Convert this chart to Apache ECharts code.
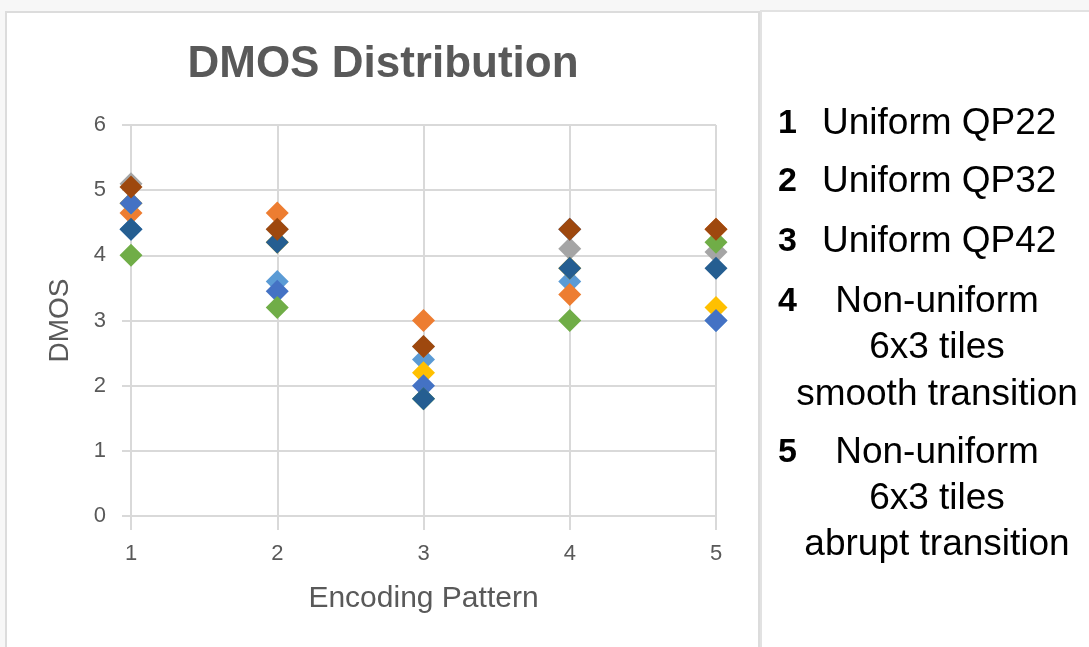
<!DOCTYPE html>
<html>
<head>
<meta charset="utf-8">
<script src="https://cdn.jsdelivr.net/npm/echarts@6/dist/echarts.min.js"></script>
<style>
html,body{margin:0;padding:0;background:#f7f7f7;}
#chart{width:1089px;height:647px;}
</style>
</head>
<body>
<div id="chart"></div>
<script>
// Encoding patterns (x) and tick labels
const patterns = [1, 2, 3, 4, 5];
const yTicks = [0, 1, 2, 3, 4, 5, 6];

// DMOS values per series (one value per encoding pattern)
const lightBlueVals = [4.4, 3.6, 2.4, 3.6, 3.0];
const grayVals      = [5.1, 4.4, 2.6, 4.1, 4.05];
const orangeVals    = [4.65, 4.65, 3.0, 3.4, 4.4];
const yellowVals    = [4.8, 4.2, 2.2, 3.8, 3.2];
const blueVals      = [4.8, 3.45, 2.0, 4.4, 3.0];
const greenVals     = [4.0, 3.2, 1.8, 3.0, 4.2];
const darkBlueVals  = [4.4, 4.2, 1.8, 3.8, 3.8];
const brownVals     = [5.05, 4.4, 2.6, 4.4, 4.4];

// Legend text on right
const legendItems = [
  {num: '1', lines: ['Uniform QP22']},
  {num: '2', lines: ['Uniform QP32']},
  {num: '3', lines: ['Uniform QP42']},
  {num: '4', lines: ['Non-uniform', '6x3 tiles', 'smooth transition']},
  {num: '5', lines: ['Non-uniform', '6x3 tiles', 'abrupt transition']}
];

const seriesDefs = [
  {name: 'S5', color: '#5B9BD5', vals: lightBlueVals},
  {name: 'S3', color: '#A5A5A5', vals: grayVals},
  {name: 'S2', color: '#ED7D31', vals: orangeVals},
  {name: 'S4', color: '#FFC000', vals: yellowVals},
  {name: 'S1', color: '#4472C4', vals: blueVals},
  {name: 'S6', color: '#70AD47', vals: greenVals},
  {name: 'S7', color: '#255E91', vals: darkBlueVals},
  {name: 'S8', color: '#9E480E', vals: brownVals}
];

const FONT = "'Liberation Sans', Arial, Helvetica, sans-serif";
const chart = echarts.init(document.getElementById('chart'), null, {renderer: 'canvas'});

const graphics = [
  {type: 'rect', z: -10, shape: {x: 6, y: 12, width: 753, height: 645},
   style: {fill: '#ffffff', stroke: '#dcdcdc', lineWidth: 2}},
  {type: 'rect', z: -10, shape: {x: 761, y: 11, width: 340, height: 645},
   style: {fill: '#ffffff', stroke: '#e2e2e2', lineWidth: 2}},
  {type: 'text', z: 10, x: 383, y: 65,
   style: {text: 'DMOS Distribution', font: "bold 44px " + FONT, fill: '#595959',
           textAlign: 'center', textVerticalAlign: 'middle'}}
];

const lineYs = [[124], [182], [242], [302, 348, 395], [453, 499, 545]];
legendItems.forEach((it, i) => {
  graphics.push({type: 'text', z: 10, x: 778, y: lineYs[i][0],
    style: {text: it.num, font: "bold 34px " + FONT, fill: '#000', textAlign: 'left', textVerticalAlign: 'middle'}});
  it.lines.forEach((ln, j) => {
    const single = it.lines.length === 1;
    graphics.push({type: 'text', z: 10, x: single ? 822 : 937, y: lineYs[i][j],
      style: {text: ln, font: "37px " + FONT, fill: '#000', textAlign: single ? 'left' : 'center', textVerticalAlign: 'middle'}});
  });
});

const option = {
  animation: false,
  backgroundColor: '#f7f7f7',
  textStyle: {fontFamily: FONT},
  graphic: graphics,
  grid: {left: 131, right: 373, top: 125, bottom: 131, containLabel: false},
  xAxis: {
    type: 'value', min: 1, max: 5, interval: 1,
    name: 'Encoding Pattern', nameLocation: 'middle', nameGap: 68,
    nameTextStyle: {color: '#595959', fontSize: 30, fontFamily: FONT},
    axisLine: {show: true, lineStyle: {color: '#d9d9d9', width: 2}},
    axisTick: {show: true, length: 14, lineStyle: {color: '#d9d9d9', width: 2}},
    axisLabel: {color: '#595959', fontSize: 22, margin: 27, fontFamily: FONT,
                formatter: v => patterns.includes(v) ? String(v) : ''},
    splitLine: {show: true, lineStyle: {color: '#d9d9d9', width: 2}}
  },
  yAxis: {
    type: 'value', min: yTicks[0], max: yTicks[yTicks.length - 1], interval: 1,
    name: 'DMOS', nameLocation: 'middle', nameGap: 57, nameRotate: 90,
    nameTextStyle: {color: '#595959', fontSize: 28, fontFamily: FONT},
    axisLine: {show: true, lineStyle: {color: '#d9d9d9', width: 2}},
    axisTick: {show: true, length: 9, lineStyle: {color: '#d9d9d9', width: 2}},
    axisLabel: {color: '#595959', fontSize: 22, margin: 25, fontFamily: FONT},
    splitLine: {show: true, lineStyle: {color: '#d9d9d9', width: 2}}
  },
  series: seriesDefs.map((s, i) => ({
    name: s.name, type: 'scatter', symbol: 'diamond', symbolSize: 23,
    z: 2 + i,
    itemStyle: {color: s.color, opacity: 1},
    data: patterns.map((p, k) => [p, s.vals[k]])
  }))
};
chart.setOption(option);
</script>
</body>
</html>
